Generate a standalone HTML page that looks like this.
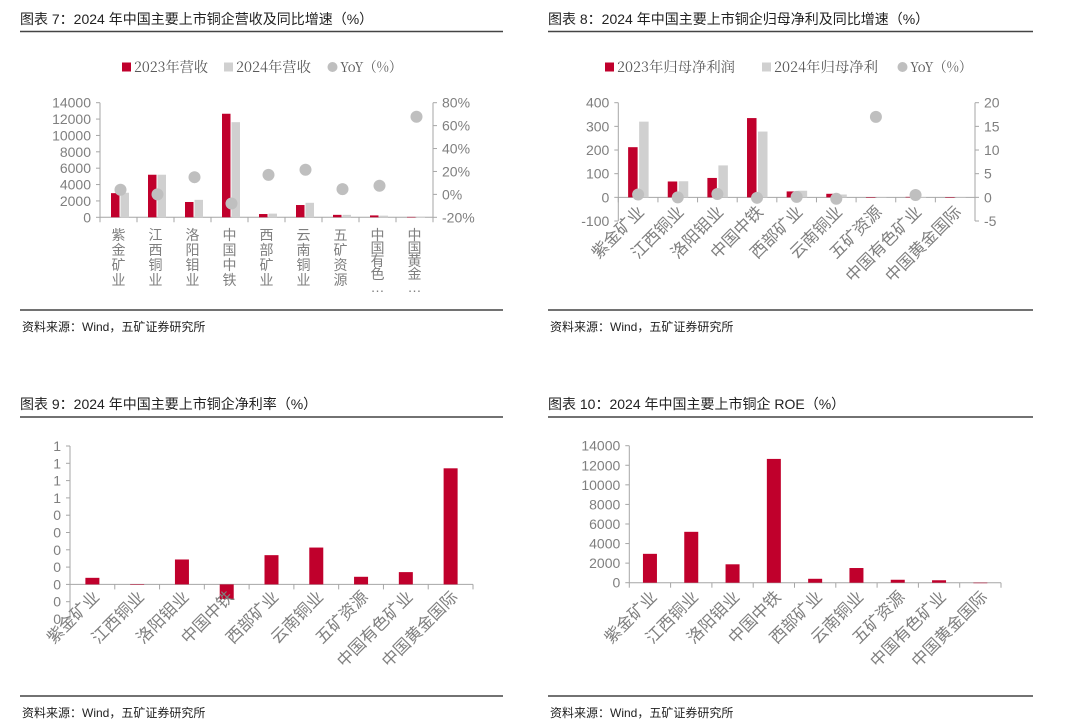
<!DOCTYPE html>
<html><head><meta charset="utf-8"><style>
body{margin:0;background:#fff;}
svg{display:block;font-family:"Liberation Sans","Noto Sans CJK SC",sans-serif;}
.t{font-size:14px;fill:#222;}
.src{font-size:12px;fill:#222;}
.tk{font-size:14px;fill:#7f7f7f;}
.lg{font-size:14px;fill:#595959;font-family:"Noto Serif CJK SC","Liberation Serif",serif;}
.xl{font-size:14px;fill:#7f7f7f;}
.xr{font-size:16.5px;fill:#7f7f7f;}
</style></head><body>
<svg id="c" width="1080" height="724" viewBox="0 0 1080 724">
<text class="t" x="20" y="24">图表 7：2024 年中国主要上市铜企营收及同比增速（%）</text>
<line x1="20" y1="31.5" x2="503" y2="31.5" stroke="#444" stroke-width="1.5"/>
<text class="t" x="548" y="24">图表 8：2024 年中国主要上市铜企归母净利及同比增速（%）</text>
<line x1="548" y1="31.5" x2="1033" y2="31.5" stroke="#444" stroke-width="1.5"/>
<line x1="20" y1="310" x2="503" y2="310" stroke="#444" stroke-width="1.5"/>
<text class="src" x="22" y="331">资料来源：Wind，五矿证券研究所</text>
<line x1="548" y1="310" x2="1033" y2="310" stroke="#444" stroke-width="1.5"/>
<text class="src" x="550" y="331">资料来源：Wind，五矿证券研究所</text>
<text class="t" x="20" y="409">图表 9：2024 年中国主要上市铜企净利率（%）</text>
<line x1="20" y1="417" x2="503" y2="417" stroke="#444" stroke-width="1.5"/>
<text class="t" x="548" y="409">图表 10：2024 年中国主要上市铜企 ROE（%）</text>
<line x1="548" y1="417" x2="1033" y2="417" stroke="#444" stroke-width="1.5"/>
<line x1="20" y1="696" x2="503" y2="696" stroke="#444" stroke-width="1.5"/>
<text class="src" x="22" y="717">资料来源：Wind，五矿证券研究所</text>
<line x1="548" y1="696" x2="1033" y2="696" stroke="#444" stroke-width="1.5"/>
<text class="src" x="550" y="717">资料来源：Wind，五矿证券研究所</text>
</svg>
<script>
const categories=["紫金矿业","江西铜业","洛阳钼业","中国中铁","西部矿业","云南铜业","五矿资源","中国有色矿业","中国黄金国际"];
const c1Short=["紫金矿业","江西铜业","洛阳钼业","中国中铁","西部矿业","云南铜业","五矿资源","中国有色…","中国黄金…"];
const rev2023=[2950,5200,1870,12650,400,1500,300,230,50];
const rev2024=[3000,5200,2130,11620,450,1770,300,200,40];
const revYoY=[4,0,15,-8,17,21.5,4.6,7.5,67.7];
const c1LeftTicks=[0,2000,4000,6000,8000,10000,12000,14000];
const c1RightTicks=[-20,0,20,40,60,80];
const np2023=[212,67,82,335,25,15,0,2,0];
const np2024=[320,68,135,278,28,12,0,1,0];
const npYoY=[0.6,0,0.7,-0.1,0.1,-0.3,17,0.5,null];
const c2LeftTicks=[-100,0,100,200,300,400];
const c2RightTicks=[-5,0,5,10,15,20];
const netMargin=[0.038,0.002,0.144,-0.085,0.169,0.213,0.044,0.071,0.671];
const c3Ticks=[-0.2,-0.1,0,0.1,0.2,0.3,0.4,0.5,0.6,0.7,0.8];
const c3TickLabels=["0","0","0","0","0","0","0","1","1","1","1"];
const roe=[2950,5200,1880,12650,400,1500,300,250,0];
const c4Ticks=[0,2000,4000,6000,8000,10000,12000,14000];

const svg=document.getElementById('c');
const NS='http://www.w3.org/2000/svg';
function mk(tag,attrs,parent){const e=document.createElementNS(NS,tag);for(const k in attrs)e.setAttribute(k,attrs[k]);(parent||svg).appendChild(e);return e;}
function scale(d0,d1,r0,r1){return v=>r0+(v-d0)/(d1-d0)*(r1-r0);}
const RED='#c0002c',GRAY='#d0d0d0',AX='#a6a6a6';

function axes(g,x0,x1,y,yTop,yBot,n,leftTicks,ly,labels,rightTicks,ry,rlabels){
  let e=mk('line',{x1:x0,y1:yTop,x2:x0,y2:yBot,stroke:AX},g);
  
  leftTicks.forEach((t,i)=>{
    const l=mk('line',{x1:x0-4,x2:x0,y1:ly(t),y2:ly(t),stroke:AX},g);
    
    const tx=mk('text',{x:x0-9,y:ly(t)+5,'text-anchor':'end',class:'tk'},g);
    tx.textContent=labels[i];
    
  });
  if(rightTicks){
    const r=mk('line',{x1:x1,y1:yTop,x2:x1,y2:yBot,stroke:AX},g);
    
    rightTicks.forEach((t,i)=>{
      const l=mk('line',{x1:x1,x2:x1+4,y1:ry(t),y2:ry(t),stroke:AX},g);
      
      const tx=mk('text',{x:x1+9,y:ry(t)+5,class:'tk'},g);
      tx.textContent=rlabels[i];
      
    });
  }
  const xa=mk('line',{x1:x0,y1:y,x2:x1,y2:y,stroke:AX},g);
  
  const w=(x1-x0)/n;
  for(let i=0;i<=n;i++){const l=mk('line',{x1:x0+i*w,x2:x0+i*w,y1:y,y2:y+5,stroke:AX},g);
    }
  return w;
}
function bar(g,x,w,y0,y1,fill,name){
  const b=mk('rect',{x:x,width:w,y:Math.min(y0,y1),height:Math.max(0.5,Math.abs(y1-y0)),fill:fill},g);
  
}
function rotLabels(g,x0,w,y,dx,names){
  names.forEach((n,i)=>{const cx=x0+w*(i+0.5)+dx;
    const t=mk('text',{x:cx,y:y,'text-anchor':'end',class:'xr',transform:`rotate(-45 ${cx} ${y})`},g);
    t.textContent=n;});
}
function legend(g,items,y){
  items.forEach(it=>{
    let s;
    if(it.dot){s=mk('circle',{cx:it.x+4.5,cy:y,r:5,fill:'#bfbfbf'},g);}
    else s=mk('rect',{x:it.x,y:y-4.5,width:9,height:9,fill:it.c},g);
    
    const t=mk('text',{x:it.x+12,y:y+5,class:'lg',textLength:it.w,lengthAdjust:'spacingAndGlyphs'},g);t.textContent=it.t;
    
  });
}

// Chart 7
(function(){
  const g=mk('g',{});
  const x0=100,x1=433,ly=scale(0,14000,217.3,102.7),ry=scale(-20,80,217.3,102.7);
  const w=axes(g,x0,x1,217.3,102.7,217.3,9,c1LeftTicks,ly,c1LeftTicks.map(String),c1RightTicks,ry,c1RightTicks.map(v=>v+'%'));
  categories.forEach((c,i)=>{const cx=x0+w*(i+0.5);
    bar(g,cx-7.5,8.5,ly(0),ly(rev2023[i]),RED,'bar-2023-revenue');
    bar(g,cx+2,8.5,ly(0),ly(rev2024[i]),GRAY,'bar-2024-revenue');
    const d=mk('circle',{cx:cx+2,cy:ry(revYoY[i]),r:6,fill:'#bfbfbf'},g);
    
    const chars=[...c1Short[i]];const step=chars.length>4?13:15;
    chars.forEach((ch,k)=>{const t=mk('text',{x:cx,y:240+k*step,'text-anchor':'middle',class:'xl'},g);
      t.textContent=ch;});
  });
  legend(g,[{x:122,c:RED,t:'2023年营收',w:74},{x:224,c:GRAY,t:'2024年营收',w:75},{x:328,dot:1,t:'YoY（%）',w:62}],67);
})();
// Chart 8
(function(){
  const g=mk('g',{});
  const x0=618.3,x1=975,ly=scale(-100,400,221,102.7),ry=scale(-5,20,221,102.7);
  const w=axes(g,x0,x1,ly(0),102.7,221,9,c2LeftTicks,ly,c2LeftTicks.map(String),c2RightTicks,ry,c2RightTicks.map(String));
  categories.forEach((c,i)=>{const cx=x0+w*(i+0.5);
    bar(g,cx-10,9.5,ly(0),ly(np2023[i]),RED,'bar-2023-net-profit');
    bar(g,cx+1,9.5,ly(0),ly(np2024[i]),GRAY,'bar-2024-net-profit');
    if(npYoY[i]!==null){const d=mk('circle',{cx:cx,cy:ry(npYoY[i]),r:6,fill:'#bfbfbf'},g);
      }
  });
  rotLabels(g,x0,w,213,7,categories);
  legend(g,[{x:605,c:RED,t:'2023年归母净利润',w:118},{x:762,c:GRAY,t:'2024年归母净利',w:104},{x:898,dot:1,t:'YoY（%）',w:62}],67);
})();
// Chart 9
(function(){
  const g=mk('g',{});
  const x0=70,x1=473,ly=scale(-0.2,0.8,619,446);
  const w=axes(g,x0,x1,ly(0),446,619,9,c3Ticks,ly,c3TickLabels,null);
  categories.forEach((c,i)=>{const cx=x0+w*(i+0.5);bar(g,cx-7,14,ly(0),ly(netMargin[i]),RED,'bar-net-margin');});
  rotLabels(g,x0,w,598,8,categories);
})();
// Chart 10
(function(){
  const g=mk('g',{});
  const x0=629.3,x1=1001,ly=scale(0,14000,582.7,445.7);
  const w=axes(g,x0,x1,582.7,445.7,582.7,9,c4Ticks,ly,c4Ticks.map(String),null);
  categories.forEach((c,i)=>{const cx=x0+w*(i+0.5);bar(g,cx-7,14,ly(0),ly(roe[i]),RED,'bar-roe');});
  rotLabels(g,x0,w,598,8,categories);
})();
</script>
</body></html>
